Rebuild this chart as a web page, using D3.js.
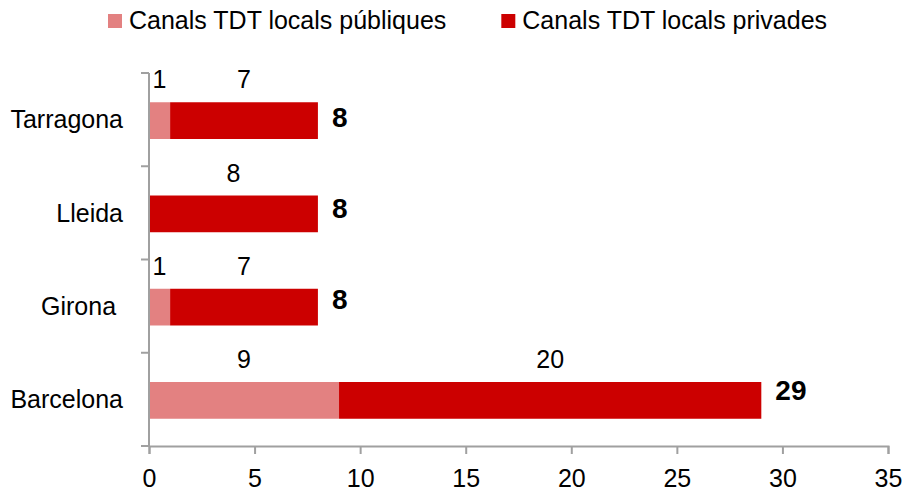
<!DOCTYPE html>
<html>
<head>
<meta charset="utf-8">
<script src="https://cdn.jsdelivr.net/npm/d3@7"></script>
<style>
  body { margin: 0; background: #fff; }
  text { font-family: "Liberation Sans", Arial, sans-serif; fill: #000; }
</style>
</head>
<body>
<script>
const provinces = ["Tarragona", "Lleida", "Girona ", "Barcelona"];
const publicChannels = [1, 0, 1, 9];
const privateChannels = [7, 8, 7, 20];
const seriesNames = ["Canals TDT locals públiques", "Canals TDT locals privades"];
const xTicks = [0, 5, 10, 15, 20, 25, 30, 35];

const w = 907;
const h = 491;
const colors = ["#E38181", "#CC0000"];

const svg = d3.select("body")
              .append("svg")
              .attr("width", w)
              .attr("height", h);

const xScale = d3.scaleLinear()
                 .domain([0, 35])
                 .range([149, 888]);

const yScale = d3.scaleBand()
                 .domain(provinces)
                 .range([73, 446]);

const rows = provinces.map((p, i) => ({
  name: p,
  values: [publicChannels[i], privateChannels[i]],
  total: publicChannels[i] + privateChannels[i]
}));

const barH = yScale.bandwidth() * 0.394;
const barTop = d => yScale(d.name) + yScale.bandwidth() / 2 - barH / 2 + 1;

// bars and segment labels
rows.forEach((d, i) => {
  let start = 0;
  d.values.forEach((v, k) => {
    if (v > 0) {
      svg.append("rect")
        .attr("x", xScale(start))
        .attr("y", barTop(d))
        .attr("width", xScale(start + v) - xScale(start))
        .attr("height", barH)
        .attr("fill", colors[k]);

      svg.append("text")
        .attr("x", xScale(start + v / 2))
        .attr("y", barTop(d) - 14)
        .attr("text-anchor", "middle")
        .style("font-size", "25px")
        .text(v);
    }
    start += v;
  });

  // totals sit a little above the bar centre, more so lower down
  svg.append("text")
    .attr("x", xScale(d.total) + 14)
    .attr("y", barTop(d) + barH / 2 + 6 - i * 2)
    .style("font-size", "28px")
    .style("font-weight", "bold")
    .text(d.total);
});

// axes
const axisColor = "#A0A0A0";

const xAxis = d3.axisBottom(xScale).tickValues(xTicks).tickSize(8).tickPadding(15);
const gx = svg.append("g")
  .attr("transform", "translate(0," + yScale.range()[1] + ")")
  .call(xAxis);
gx.select(".domain").attr("stroke", axisColor).attr("stroke-width", 2);
gx.selectAll(".tick line").attr("stroke", axisColor).attr("stroke-width", 2);
gx.selectAll(".tick text")
  .style("font-size", "25px")
  .style("font-family", "'Liberation Sans', Arial, sans-serif")
  .attr("fill", "#000");

// category axis: ticks between categories
const yEdges = provinces.map(p => yScale(p)).concat([yScale.range()[1]]);
svg.append("line")
  .attr("x1", xScale(0)).attr("x2", xScale(0))
  .attr("y1", yScale.range()[0]).attr("y2", yScale.range()[1])
  .attr("stroke", axisColor).attr("stroke-width", 2);
svg.selectAll(".ytick")
  .data(yEdges)
  .enter()
  .append("line")
  .attr("x1", xScale(0) - 8).attr("x2", xScale(0))
  .attr("y1", d => d).attr("y2", d => d)
  .attr("stroke", axisColor).attr("stroke-width", 2);

svg.selectAll(".ylabel")
  .data(provinces)
  .enter()
  .append("text")
  .attr("x", xScale(0) - 26)
  .attr("y", d => yScale(d) + yScale.bandwidth() / 2)
  .attr("dy", "0.35em")
  .attr("text-anchor", "end")
  .style("font-size", "25px")
  .style("white-space", "pre")
  .text(d => d);

// legend
let lx = 108;
seriesNames.forEach((name, k) => {
  svg.append("rect")
    .attr("x", lx)
    .attr("y", 14)
    .attr("width", 14)
    .attr("height", 14)
    .attr("fill", colors[k]);
  const t = svg.append("text")
    .attr("x", lx + 21)
    .attr("y", 29)
    .style("font-size", "25px")
    .text(name);
  lx += 21 + t.node().getComputedTextLength() + 55;
});
</script>
</body>
</html>
